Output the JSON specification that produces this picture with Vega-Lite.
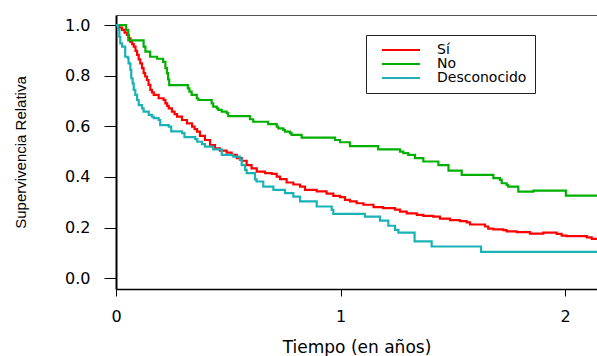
{
  "$schema": "https://vega.github.io/schema/vega-lite/v6.json",
  "autosize": "none",
  "width": 481,
  "height": 274,
  "padding": {"left": 116, "top": 15, "right": 0, "bottom": 67},
  "background": "white",
  "config": {"view": {"stroke": null}},
  "datasets": {
    "curves": [
      {"grupo": "Sí", "t": 0, "s": 1.0},
      {"grupo": "Sí", "t": 0.015, "s": 0.99},
      {"grupo": "Sí", "t": 0.027, "s": 0.981},
      {"grupo": "Sí", "t": 0.038, "s": 0.97},
      {"grupo": "Sí", "t": 0.049, "s": 0.961},
      {"grupo": "Sí", "t": 0.057, "s": 0.948},
      {"grupo": "Sí", "t": 0.064, "s": 0.934},
      {"grupo": "Sí", "t": 0.072, "s": 0.925},
      {"grupo": "Sí", "t": 0.079, "s": 0.915},
      {"grupo": "Sí", "t": 0.087, "s": 0.898},
      {"grupo": "Sí", "t": 0.094, "s": 0.882},
      {"grupo": "Sí", "t": 0.101, "s": 0.865},
      {"grupo": "Sí", "t": 0.108, "s": 0.849},
      {"grupo": "Sí", "t": 0.116, "s": 0.83},
      {"grupo": "Sí", "t": 0.123, "s": 0.81},
      {"grupo": "Sí", "t": 0.13, "s": 0.797},
      {"grupo": "Sí", "t": 0.138, "s": 0.783},
      {"grupo": "Sí", "t": 0.145, "s": 0.764},
      {"grupo": "Sí", "t": 0.153, "s": 0.744},
      {"grupo": "Sí", "t": 0.16, "s": 0.734},
      {"grupo": "Sí", "t": 0.168, "s": 0.724},
      {"grupo": "Sí", "t": 0.19, "s": 0.711},
      {"grupo": "Sí", "t": 0.212, "s": 0.704},
      {"grupo": "Sí", "t": 0.22, "s": 0.691},
      {"grupo": "Sí", "t": 0.228, "s": 0.681},
      {"grupo": "Sí", "t": 0.235, "s": 0.671},
      {"grupo": "Sí", "t": 0.249, "s": 0.658},
      {"grupo": "Sí", "t": 0.261, "s": 0.648},
      {"grupo": "Sí", "t": 0.272, "s": 0.638},
      {"grupo": "Sí", "t": 0.294, "s": 0.625},
      {"grupo": "Sí", "t": 0.316, "s": 0.612},
      {"grupo": "Sí", "t": 0.339, "s": 0.599},
      {"grupo": "Sí", "t": 0.35, "s": 0.589},
      {"grupo": "Sí", "t": 0.361, "s": 0.579},
      {"grupo": "Sí", "t": 0.374, "s": 0.562},
      {"grupo": "Sí", "t": 0.396, "s": 0.546},
      {"grupo": "Sí", "t": 0.419, "s": 0.526},
      {"grupo": "Sí", "t": 0.441, "s": 0.513},
      {"grupo": "Sí", "t": 0.463, "s": 0.504},
      {"grupo": "Sí", "t": 0.493, "s": 0.496},
      {"grupo": "Sí", "t": 0.515, "s": 0.487},
      {"grupo": "Sí", "t": 0.538, "s": 0.474},
      {"grupo": "Sí", "t": 0.56, "s": 0.464},
      {"grupo": "Sí", "t": 0.582, "s": 0.447},
      {"grupo": "Sí", "t": 0.604, "s": 0.434},
      {"grupo": "Sí", "t": 0.627, "s": 0.421},
      {"grupo": "Sí", "t": 0.664, "s": 0.415},
      {"grupo": "Sí", "t": 0.694, "s": 0.412},
      {"grupo": "Sí", "t": 0.716, "s": 0.401},
      {"grupo": "Sí", "t": 0.731, "s": 0.391},
      {"grupo": "Sí", "t": 0.76, "s": 0.378},
      {"grupo": "Sí", "t": 0.79, "s": 0.37},
      {"grupo": "Sí", "t": 0.82, "s": 0.362},
      {"grupo": "Sí", "t": 0.842, "s": 0.349},
      {"grupo": "Sí", "t": 0.894, "s": 0.343},
      {"grupo": "Sí", "t": 0.938, "s": 0.334},
      {"grupo": "Sí", "t": 0.968, "s": 0.325},
      {"grupo": "Sí", "t": 0.998, "s": 0.32},
      {"grupo": "Sí", "t": 1.02, "s": 0.309},
      {"grupo": "Sí", "t": 1.042, "s": 0.303},
      {"grupo": "Sí", "t": 1.072, "s": 0.296},
      {"grupo": "Sí", "t": 1.102, "s": 0.29},
      {"grupo": "Sí", "t": 1.147, "s": 0.281},
      {"grupo": "Sí", "t": 1.19, "s": 0.277},
      {"grupo": "Sí", "t": 1.243, "s": 0.271},
      {"grupo": "Sí", "t": 1.265, "s": 0.263},
      {"grupo": "Sí", "t": 1.295, "s": 0.256},
      {"grupo": "Sí", "t": 1.34, "s": 0.25},
      {"grupo": "Sí", "t": 1.369, "s": 0.246},
      {"grupo": "Sí", "t": 1.413, "s": 0.243},
      {"grupo": "Sí", "t": 1.443, "s": 0.235},
      {"grupo": "Sí", "t": 1.488, "s": 0.229},
      {"grupo": "Sí", "t": 1.532, "s": 0.225},
      {"grupo": "Sí", "t": 1.562, "s": 0.22},
      {"grupo": "Sí", "t": 1.577, "s": 0.212},
      {"grupo": "Sí", "t": 1.644, "s": 0.204},
      {"grupo": "Sí", "t": 1.658, "s": 0.196},
      {"grupo": "Sí", "t": 1.681, "s": 0.193},
      {"grupo": "Sí", "t": 1.725, "s": 0.19},
      {"grupo": "Sí", "t": 1.74, "s": 0.185},
      {"grupo": "Sí", "t": 1.785, "s": 0.182},
      {"grupo": "Sí", "t": 1.844, "s": 0.176},
      {"grupo": "Sí", "t": 1.903, "s": 0.18},
      {"grupo": "Sí", "t": 1.963, "s": 0.175},
      {"grupo": "Sí", "t": 1.985, "s": 0.168},
      {"grupo": "Sí", "t": 2.007, "s": 0.166},
      {"grupo": "Sí", "t": 2.097, "s": 0.161},
      {"grupo": "Sí", "t": 2.119, "s": 0.155},
      {"grupo": "Sí", "t": 2.15, "s": 0.155},

      {"grupo": "No", "t": 0, "s": 1.0},
      {"grupo": "No", "t": 0.045, "s": 0.98},
      {"grupo": "No", "t": 0.055, "s": 0.94},
      {"grupo": "No", "t": 0.123, "s": 0.915},
      {"grupo": "No", "t": 0.131, "s": 0.895},
      {"grupo": "No", "t": 0.152, "s": 0.875},
      {"grupo": "No", "t": 0.183, "s": 0.867},
      {"grupo": "No", "t": 0.21, "s": 0.855},
      {"grupo": "No", "t": 0.22, "s": 0.83},
      {"grupo": "No", "t": 0.227, "s": 0.81},
      {"grupo": "No", "t": 0.232, "s": 0.785},
      {"grupo": "No", "t": 0.237, "s": 0.763},
      {"grupo": "No", "t": 0.32, "s": 0.75},
      {"grupo": "No", "t": 0.327, "s": 0.737},
      {"grupo": "No", "t": 0.337, "s": 0.724},
      {"grupo": "No", "t": 0.36, "s": 0.71},
      {"grupo": "No", "t": 0.367, "s": 0.704},
      {"grupo": "No", "t": 0.426, "s": 0.691},
      {"grupo": "No", "t": 0.433, "s": 0.678},
      {"grupo": "No", "t": 0.449, "s": 0.671},
      {"grupo": "No", "t": 0.456, "s": 0.665},
      {"grupo": "No", "t": 0.471, "s": 0.658},
      {"grupo": "No", "t": 0.493, "s": 0.652},
      {"grupo": "No", "t": 0.5, "s": 0.64},
      {"grupo": "No", "t": 0.597, "s": 0.628},
      {"grupo": "No", "t": 0.611, "s": 0.618},
      {"grupo": "No", "t": 0.678, "s": 0.609},
      {"grupo": "No", "t": 0.716, "s": 0.599},
      {"grupo": "No", "t": 0.723, "s": 0.592},
      {"grupo": "No", "t": 0.745, "s": 0.586},
      {"grupo": "No", "t": 0.753, "s": 0.579},
      {"grupo": "No", "t": 0.775, "s": 0.573},
      {"grupo": "No", "t": 0.782, "s": 0.566},
      {"grupo": "No", "t": 0.827, "s": 0.555},
      {"grupo": "No", "t": 0.976, "s": 0.546},
      {"grupo": "No", "t": 0.998, "s": 0.537},
      {"grupo": "No", "t": 1.042, "s": 0.522},
      {"grupo": "No", "t": 1.168, "s": 0.509},
      {"grupo": "No", "t": 1.265, "s": 0.5},
      {"grupo": "No", "t": 1.28, "s": 0.494},
      {"grupo": "No", "t": 1.302, "s": 0.487},
      {"grupo": "No", "t": 1.332, "s": 0.474},
      {"grupo": "No", "t": 1.369, "s": 0.461},
      {"grupo": "No", "t": 1.436, "s": 0.447},
      {"grupo": "No", "t": 1.481, "s": 0.425},
      {"grupo": "No", "t": 1.54, "s": 0.408},
      {"grupo": "No", "t": 1.681, "s": 0.395},
      {"grupo": "No", "t": 1.71, "s": 0.388},
      {"grupo": "No", "t": 1.718, "s": 0.375},
      {"grupo": "No", "t": 1.74, "s": 0.368},
      {"grupo": "No", "t": 1.747, "s": 0.362},
      {"grupo": "No", "t": 1.792, "s": 0.342},
      {"grupo": "No", "t": 1.859, "s": 0.346},
      {"grupo": "No", "t": 2.004, "s": 0.326},
      {"grupo": "No", "t": 2.15, "s": 0.326},

      {"grupo": "Desconocido", "t": 0, "s": 1.0},
      {"grupo": "Desconocido", "t": 0.009, "s": 0.981},
      {"grupo": "Desconocido", "t": 0.015, "s": 0.954},
      {"grupo": "Desconocido", "t": 0.019, "s": 0.928},
      {"grupo": "Desconocido", "t": 0.027, "s": 0.915},
      {"grupo": "Desconocido", "t": 0.041, "s": 0.875},
      {"grupo": "Desconocido", "t": 0.053, "s": 0.869},
      {"grupo": "Desconocido", "t": 0.056, "s": 0.849},
      {"grupo": "Desconocido", "t": 0.064, "s": 0.823},
      {"grupo": "Desconocido", "t": 0.068, "s": 0.79},
      {"grupo": "Desconocido", "t": 0.074, "s": 0.77},
      {"grupo": "Desconocido", "t": 0.079, "s": 0.744},
      {"grupo": "Desconocido", "t": 0.086, "s": 0.724},
      {"grupo": "Desconocido", "t": 0.094, "s": 0.704},
      {"grupo": "Desconocido", "t": 0.101, "s": 0.684},
      {"grupo": "Desconocido", "t": 0.116, "s": 0.671},
      {"grupo": "Desconocido", "t": 0.123, "s": 0.658},
      {"grupo": "Desconocido", "t": 0.146, "s": 0.645},
      {"grupo": "Desconocido", "t": 0.16, "s": 0.638},
      {"grupo": "Desconocido", "t": 0.168, "s": 0.632},
      {"grupo": "Desconocido", "t": 0.19, "s": 0.625},
      {"grupo": "Desconocido", "t": 0.197, "s": 0.605},
      {"grupo": "Desconocido", "t": 0.235, "s": 0.599},
      {"grupo": "Desconocido", "t": 0.246, "s": 0.58},
      {"grupo": "Desconocido", "t": 0.294, "s": 0.573},
      {"grupo": "Desconocido", "t": 0.305, "s": 0.557},
      {"grupo": "Desconocido", "t": 0.353, "s": 0.549},
      {"grupo": "Desconocido", "t": 0.362, "s": 0.539},
      {"grupo": "Desconocido", "t": 0.383, "s": 0.53},
      {"grupo": "Desconocido", "t": 0.396, "s": 0.52},
      {"grupo": "Desconocido", "t": 0.433, "s": 0.509},
      {"grupo": "Desconocido", "t": 0.471, "s": 0.487},
      {"grupo": "Desconocido", "t": 0.522, "s": 0.48},
      {"grupo": "Desconocido", "t": 0.552, "s": 0.467},
      {"grupo": "Desconocido", "t": 0.56, "s": 0.447},
      {"grupo": "Desconocido", "t": 0.575, "s": 0.428},
      {"grupo": "Desconocido", "t": 0.582, "s": 0.415},
      {"grupo": "Desconocido", "t": 0.619, "s": 0.39},
      {"grupo": "Desconocido", "t": 0.626, "s": 0.382},
      {"grupo": "Desconocido", "t": 0.656, "s": 0.362},
      {"grupo": "Desconocido", "t": 0.701, "s": 0.349},
      {"grupo": "Desconocido", "t": 0.753, "s": 0.336},
      {"grupo": "Desconocido", "t": 0.79, "s": 0.322},
      {"grupo": "Desconocido", "t": 0.82, "s": 0.303},
      {"grupo": "Desconocido", "t": 0.894, "s": 0.283},
      {"grupo": "Desconocido", "t": 0.961, "s": 0.27},
      {"grupo": "Desconocido", "t": 0.968, "s": 0.254},
      {"grupo": "Desconocido", "t": 1.109, "s": 0.243},
      {"grupo": "Desconocido", "t": 1.176, "s": 0.227},
      {"grupo": "Desconocido", "t": 1.213, "s": 0.207},
      {"grupo": "Desconocido", "t": 1.243, "s": 0.191},
      {"grupo": "Desconocido", "t": 1.258, "s": 0.18},
      {"grupo": "Desconocido", "t": 1.33, "s": 0.145},
      {"grupo": "Desconocido", "t": 1.406, "s": 0.125},
      {"grupo": "Desconocido", "t": 1.626, "s": 0.104},
      {"grupo": "Desconocido", "t": 2.15, "s": 0.104}
    ]
  },
  "data": {"name": "curves"},
  "layer": [
    {
      "mark": {"type": "line", "interpolate": "step-after", "strokeWidth": 2.2, "clip": true},
      "encoding": {
        "x": {
          "field": "t", "type": "quantitative",
          "scale": {"domain": [0, 2.1425], "nice": false, "zero": false},
          "axis": {
            "orient": "bottom", "values": [0, 1, 2], "format": "d", "grid": false,
            "domain": true, "domainColor": "black", "domainWidth": 1.5,
            "ticks": true, "tickColor": "black", "tickSize": 7, "tickWidth": 1,
            "labelFont": "DejaVu Sans", "labelFontSize": 16, "labelColor": "black",
            "labelPadding": 12, "labelFlush": false,
            "title": "Tiempo (en años)", "titleFont": "DejaVu Sans", "titleFontSize": 17,
            "titleFontWeight": "normal", "titleColor": "black", "titlePadding": 15
          }
        },
        "y": {
          "field": "s", "type": "quantitative",
          "scale": {"domain": [-0.043, 1.04], "nice": false, "zero": false},
          "axis": {
            "values": [0, 0.2, 0.4, 0.6, 0.8, 1.0], "format": ".1f", "grid": false,
            "domain": true, "domainColor": "black", "domainWidth": 2,
            "ticks": true, "tickColor": "black", "tickSize": 12, "tickWidth": 1,
            "labelFont": "DejaVu Sans", "labelFontSize": 16, "labelColor": "black", "labelPadding": 14,
            "title": "Supervivencia Relativa", "titleFont": "Liberation Sans", "titleFontSize": 15,
            "titleFontWeight": "normal", "titleColor": "black", "titlePadding": 36
          }
        },
        "color": {
          "field": "grupo", "type": "nominal",
          "scale": {"domain": ["Sí", "No", "Desconocido"], "range": ["#FF0000", "#00B000", "#1AB2B5"]},
          "legend": {
            "orient": "none", "legendX": 250, "legendY": 20,
            "title": null, "strokeColor": "#222", "fillColor": "white", "padding": 8,
            "symbolType": "M-4,0L4,0", "symbolSize": 90.25, "symbolStrokeWidth": 2.2,
            "symbolOffset": 20, "labelOffset": 29,
            "labelFont": "DejaVu Sans", "labelFontSize": 14, "labelColor": "black",
            "rowPadding": 0
          }
        }
      }
    },
    {
      "mark": {"type": "line", "opacity": 0},
      "encoding": {
        "x": {
          "field": "t", "type": "quantitative",
          "axis": {"orient": "top", "labels": false, "ticks": false, "title": null, "grid": false,
                   "domain": true, "domainColor": "#555", "domainWidth": 1}
        },
        "y": {"field": "s", "type": "quantitative"},
        "detail": {"field": "grupo"}
      }
    }
  ],
  "resolve": {"axis": {"x": "independent"}}
}
